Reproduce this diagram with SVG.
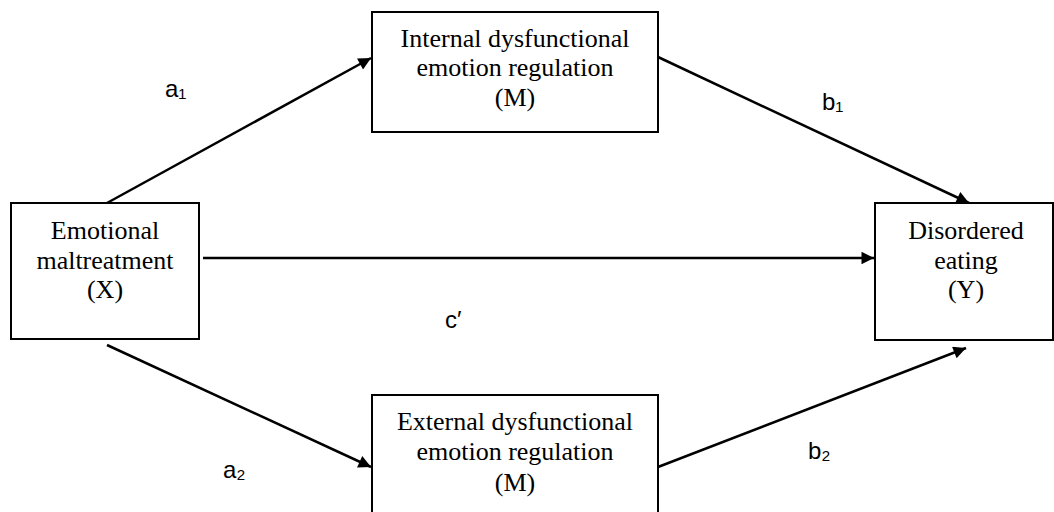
<svg xmlns="http://www.w3.org/2000/svg" width="1054" height="512" viewBox="0 0 1054 512">
<style>
.box{fill:#fff;stroke:#000;stroke-width:2}
.nt{font-family:"Liberation Serif","Times New Roman",serif;font-size:26px;text-anchor:middle;fill:#000}
.lb{font-family:"Liberation Sans","DejaVu Sans",sans-serif;font-size:24px;fill:#000}
.ln{stroke:#000;stroke-width:2.5;fill:none;marker-end:url(#ah)}
</style>
<defs>
<marker id="ah" viewBox="0 0 10 10" refX="10" refY="5" markerWidth="6" markerHeight="5" markerUnits="strokeWidth" orient="auto">
<path d="M0,0 L10,5 L0,10 z" fill="#000"/>
</marker>
</defs>
<rect width="1054" height="512" fill="#fff"/>
<g id="connectors">
<line class="ln" x1="107" y1="203" x2="371" y2="58"/>
<line class="ln" x1="658" y1="57" x2="969" y2="203"/>
<line class="ln" x1="203" y1="258" x2="874" y2="258"/>
<line class="ln" x1="107" y1="345" x2="371" y2="467"/>
<line class="ln" x1="658" y1="467" x2="966" y2="348"/>
</g>
<g id="node-x">
<rect class="box" x="11" y="203" width="188" height="136"/>
<text class="nt" x="105" y="239">Emotional</text>
<text class="nt" x="105" y="269">maltreatment</text>
<text class="nt" x="105" y="298">(X)</text>
</g>
<g id="node-m1">
<rect class="box" x="372" y="12" width="286" height="120"/>
<text class="nt" x="515" y="47">Internal dysfunctional</text>
<text class="nt" x="515" y="76">emotion regulation</text>
<text class="nt" x="515" y="106">(M)</text>
</g>
<g id="node-m2">
<rect class="box" x="372" y="395" width="286" height="125"/>
<text class="nt" x="515" y="430">External dysfunctional</text>
<text class="nt" x="515" y="460">emotion regulation</text>
<text class="nt" x="515" y="491">(M)</text>
</g>
<g id="node-y">
<rect class="box" x="875" y="203" width="178" height="137"/>
<text class="nt" x="966" y="239">Disordered</text>
<text class="nt" x="966" y="269">eating</text>
<text class="nt" x="966" y="298">(Y)</text>
</g>
<g id="labels">
<text class="lb" x="165" y="97">a₁</text>
<text class="lb" x="822" y="110">b₁</text>
<text class="lb" x="445" y="328" font-size="26">c′</text>
<text class="lb" x="223" y="478">a₂</text>
<text class="lb" x="808" y="459">b₂</text>
</g>
</svg>
